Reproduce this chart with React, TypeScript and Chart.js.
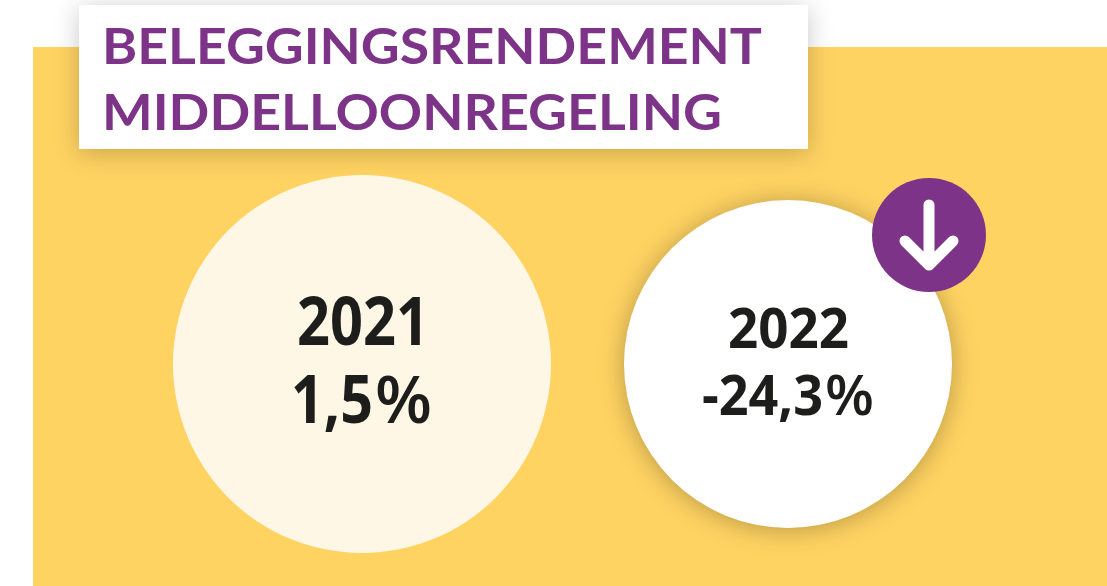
import React, { useEffect, useRef } from "react";
import { Chart, registerables } from "chart.js";

Chart.register(...registerables);

const years = ["2021", "2022"];
const returns = [1.5, -24.3];
const bubbleRadii = [189, 164];
const bubbleColors = ["#fff7e6", "#ffffff"];
const titleLines = ["BELEGGINGSRENDEMENT", "MIDDELLOONREGELING"];

const YELLOW = "#ffd362";
const PURPLE = "#7d3387";
const INK = "#1d1d1b";
const NUM_FONT = '"Open Sans"';

const fmt = (v: number) => v.toFixed(1).replace(".", ",");

function fit(ctx: CanvasRenderingContext2D, text: string, font: string, left: number, right: number, baseline: number) {
  ctx.font = font;
  const w = ctx.measureText(text).width;
  ctx.save();
  ctx.translate(left, baseline);
  ctx.scale((right - left) / w, 1);
  ctx.textAlign = "left";
  ctx.textBaseline = "alphabetic";
  ctx.fillText(text, 0, 0);
  ctx.restore();
}

const infographic = {
  id: "infographic",
  beforeDraw(chart: any) {
    const { ctx } = chart;
    ctx.save();
    ctx.fillStyle = YELLOW;
    ctx.fillRect(33, 47, 1074, 539);
    ctx.shadowColor = "rgba(0,0,0,0.22)";
    ctx.shadowBlur = 24;
    ctx.shadowOffsetY = 4;
    ctx.fillStyle = "#ffffff";
    ctx.fillRect(79, 5, 729, 144);
    ctx.restore();
    ctx.save();
    ctx.fillStyle = PURPLE;
    const font = "700 50px Lato";
    fit(ctx, titleLines[0], font, 102, 762, 64);
    fit(ctx, titleLines[1], font, 102, 722, 130);
    ctx.restore();
  },
  beforeDatasetDraw(chart: any, args: any) {
    const { ctx } = chart;
    ctx.save();
    if (args.index === 1) {
      ctx.shadowColor = "rgba(0,0,0,0.28)";
      ctx.shadowBlur = 26;
      ctx.shadowOffsetY = 2;
    }
  },
  afterDatasetDraw(chart: any) {
    chart.ctx.restore();
  },
  afterDatasetsDraw(chart: any) {
    const { ctx } = chart;
    const p0 = chart.getDatasetMeta(0).data[0];
    const p1 = chart.getDatasetMeta(1).data[0];
    ctx.save();
    ctx.fillStyle = INK;
    const big = `700 66px ${NUM_FONT}`;
    const bigP = `600 66px ${NUM_FONT}`;
    const small = `700 56px ${NUM_FONT}`;
    const smallP = `600 56px ${NUM_FONT}`;
    fit(ctx, years[0], big, p0.x - 65, p0.x + 67, 345);
    fit(ctx, fmt(returns[0]), big, p0.x - 71, p0.x + 11, 423);
    fit(ctx, "%", bigP, p0.x + 13, p0.x + 70, 423);
    fit(ctx, years[1], small, p1.x - 60, p1.x + 61, 348);
    fit(ctx, fmt(returns[1]), small, p1.x - 86, p1.x + 35, 415);
    fit(ctx, "%", smallP, p1.x + 37, p1.x + 86, 415);

    const bx = p1.x + 141;
    const by = p1.y - 129;
    ctx.fillStyle = PURPLE;
    ctx.beginPath();
    ctx.arc(bx, by, 57, 0, Math.PI * 2);
    ctx.fill();
    ctx.strokeStyle = "#ffffff";
    ctx.lineWidth = 11;
    ctx.lineCap = "round";
    ctx.lineJoin = "round";
    ctx.beginPath();
    ctx.moveTo(bx, by - 30);
    ctx.lineTo(bx, by + 30);
    ctx.moveTo(bx - 24, by + 6);
    ctx.lineTo(bx, by + 30);
    ctx.lineTo(bx + 24, by + 6);
    ctx.stroke();
    ctx.restore();
  },
};

export default function App() {
  const ref = useRef<HTMLCanvasElement>(null);
  useEffect(() => {
    document.body.style.margin = "0";
    document.body.style.background = "#ffffff";
    const chart = new Chart(ref.current!, {
      type: "bubble",
      data: {
        labels: years,
        datasets: years.map((y, i) => ({
          label: y,
          data: [{ x: y, y: 0, r: bubbleRadii[i] }],
          backgroundColor: bubbleColors[i],
          borderWidth: 0,
          hoverRadius: 0,
          clip: false,
        })),
      } as any,
      options: {
        responsive: false,
        animation: false,
        events: [],
        layout: { autoPadding: false, padding: { left: 149, right: 106, top: 142, bottom: 0 } },
        plugins: { legend: { display: false }, tooltip: { enabled: false }, title: { display: false } },
        scales: {
          x: { type: "category", offset: true, display: false },
          y: { type: "linear", min: -1, max: 1, display: false },
        },
      },
      plugins: [infographic],
    } as any);
    return () => chart.destroy();
  }, []);
  return <canvas ref={ref} width={1107} height={586} style={{ display: "block" }} />;
}
